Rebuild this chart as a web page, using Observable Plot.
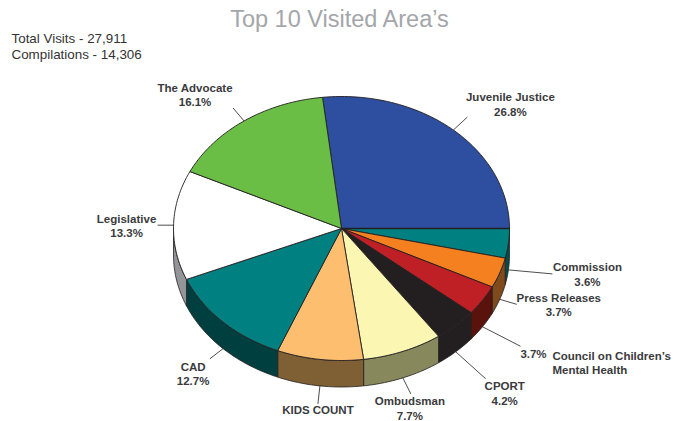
<!DOCTYPE html>
<html>
<head>
<meta charset="utf-8">
<script src="https://cdn.jsdelivr.net/npm/d3@7"></script>
<script src="https://cdn.jsdelivr.net/npm/@observablehq/plot@0.6"></script>
<style>
html,body{margin:0;padding:0;background:#fff;overflow:hidden;width:689px;height:421px}
#title{height:30px;text-align:center;width:679px;font:23.5px "Liberation Sans",Arial,sans-serif;line-height:38px;color:#a4a6a9;white-space:nowrap}
svg{display:block}
</style>
</head>
<body>
<div id="title"></div>
<div id="chart"></div>
<script>
const chartTitle = "Top 10 Visited Area\u2019s";
const notes = "Total Visits - 27,911\nCompilations - 14,306";
const categories = ["Juvenile Justice","Commission","Press Releases","Council on Children\u2019s\nMental Health","CPORT","Ombudsman","KIDS COUNT","CAD","Legislative","The Advocate"];
const percentLabels = ["26.8%","3.6%","3.7%","3.7%","4.2%","7.7%","9.0%","12.7%","13.3%","16.1%"];
// slice sweeps (percent of the circle)
const sliceShares = [26.8,3.6,3.7,3.7,4.2,7.7,8.3,12.5,13.4,16.1];
const topColors = ["#2e4f9f","#008080","#f58020","#be2026","#231f20","#fbf6b1","#fdbf6f","#008080","#ffffff","#6abd45"];
const wallColors = ["#1d3466","#004d4d","#7f4a1c","#5a120c","#231f20","#87885c","#7f5f34","#003f3f","#939598","#3c6b27"];

// layout (pixels)
const W = 689, H = 391, CX = 341, CY = 198, RX = 168, RY = 132, DEPTH = 26.5;
const leaderOff = [[14,-13],[44,4],[17,5],[38,19.5],[30,27],[8,16],[-2,18],[-13,10],[-16,0],[-11,-13]];
const labelOff  = [[43,-13],[35,0],[42,0],[13,8],[19,14],[-1,14],[0,13],[-17,15],[-31,0],[-38,-13.5]];

const rad = d => d * Math.PI / 180;
const total = d3.sum(sliceShares);
const firstStart = 90 - sliceShares[0] / total * 360;
let acc = firstStart;
const slices = categories.map((name,i) => {
  const a0 = acc, a1 = acc + sliceShares[i] / total * 360;
  acc = a1;
  return {i, name, a0, a1, mid:(a0+a1)/2};
});
const px = a => Math.sin(rad(a));
const py = a => Math.cos(rad(a));
const arc = (a0,a1) => { const n = Math.max(2, Math.ceil((a1-a0)/1.5)); return d3.range(n+1).map(k => a0 + (a1-a0)*k/n); };
const depthU = DEPTH / RY;

const faces = slices.flatMap(s => {
  const pts = [{x:0,y:0}, ...arc(s.a0,s.a1).map(a => ({x:px(a),y:py(a)})), {x:0,y:0}];
  return pts.map(p => ({...p, key:s.i, fill:topColors[s.i]}));
});
const walls = slices.flatMap(s => {
  const lo = Math.max(s.a0,90), hi = Math.min(s.a1,270);
  if (hi <= lo) return [];
  const as = arc(lo,hi);
  const pts = [...as.map(a => ({x:px(a),y:py(a)})), ...as.slice().reverse().map(a => ({x:px(a),y:py(a)-depthU}))];
  pts.push(pts[0]);
  return pts.map(p => ({...p, key:s.i, fill:wallColors[s.i]}));
});
const leaders = slices.map(s => {
  const onWall = s.mid > 90 && s.mid < 270;
  const x1 = px(s.mid), y1 = py(s.mid) - (onWall ? depthU : 0);
  const [dx,dy] = leaderOff[s.i];
  return {x1, y1, x2:x1 + dx/RX, y2:y1 - dy/RY, s};
});
const COUNCIL = 3;
const labelRows = leaders.map(l => {
  const [dx,dy] = labelOff[l.s.i];
  return {x:l.x2 + dx/RX, y:l.y2 - dy/RY, name:l.s.name, pct:percentLabels[l.s.i], i:l.s.i};
});
const centred = labelRows.filter(d => d.i !== COUNCIL);
const council = labelRows.filter(d => d.i === COUNCIL);
const ink = "#231f20", labelInk = "#3a3a3c";

document.getElementById("title").textContent = chartTitle;
const plot = Plot.plot({
  width:W, height:H, margin:0, style:{background:"transparent",overflow:"hidden",fontFamily:"'Liberation Sans',Arial,sans-serif"},
  x:{domain:[-1,1], range:[CX-RX,CX+RX], axis:null},
  y:{domain:[-1,1], range:[CY+RY,CY-RY], axis:null},
  marks:[
    Plot.line(walls,{x:"x",y:"y",z:"key",fill:"fill",stroke:ink,strokeWidth:0.8,curve:"linear"}),
    Plot.line(faces,{x:"x",y:"y",z:"key",fill:"fill",stroke:ink,strokeWidth:0.9,curve:"linear"}),
    Plot.link([{x1:0,y1:0,x2:px(slices[0].a1),y2:py(slices[0].a1)}],{x1:"x1",y1:"y1",x2:"x2",y2:"y2",stroke:ink,strokeWidth:1.6,curve:"linear"}),
    Plot.link(leaders,{x1:"x1",y1:"y1",x2:"x2",y2:"y2",stroke:ink,strokeWidth:0.8,curve:"linear"}),
    Plot.text(centred,{x:"x",y:"y",text:d => d.name + "\n" + d.pct,fontSize:11.5,fontWeight:"bold",fill:labelInk,lineHeight:1.25}),
    Plot.text(council,{x:"x",y:"y",text:"pct",fontSize:11.5,fontWeight:"bold",fill:labelInk}),
    Plot.text(council,{x:"x",y:"y",text:"name",fontSize:11.5,fontWeight:"bold",fill:labelInk,textAnchor:"start",dx:19,dy:8,lineHeight:1.25}),
    Plot.text([notes],{text:d=>d,frameAnchor:"top-left",dx:11,dy:1.5,fontSize:13.4,fill:"#333",lineHeight:1.2})
  ]
});
document.getElementById("chart").appendChild(plot);
</script>
</body>
</html>
